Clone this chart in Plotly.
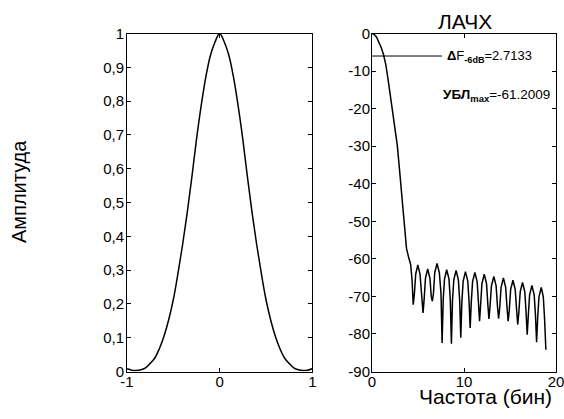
import plotly.graph_objects as go

# ---- Data ----
# Left: window function (amplitude vs normalized time)
win_t = [-1.0, -0.95, -0.9, -0.85, -0.8, -0.75, -0.7, -0.65, -0.6, -0.55, -0.5,
         -0.45, -0.4, -0.35, -0.3, -0.25, -0.2, -0.15, -0.1, -0.05, 0.0,
         0.05, 0.1, 0.15, 0.2, 0.25, 0.3, 0.35, 0.4, 0.45, 0.5,
         0.55, 0.6, 0.65, 0.7, 0.75, 0.8, 0.85, 0.9, 0.95, 1.0]
win_amp = [0.008, 0.004, 0.003, 0.005, 0.011, 0.024, 0.040, 0.068, 0.105, 0.153, 0.213,
           0.290, 0.375, 0.470, 0.575, 0.687, 0.785, 0.870, 0.935, 0.975, 1.0,
           0.975, 0.935, 0.870, 0.785, 0.687, 0.575, 0.470, 0.375, 0.290, 0.213,
           0.153, 0.105, 0.068, 0.040, 0.024, 0.011, 0.005, 0.003, 0.004, 0.008]

# Right: log magnitude response (dB vs frequency bins)
freq_bins = [0.0, 0.25, 0.5, 0.75, 1.0, 1.25, 1.5, 1.75, 2.0, 2.25, 2.5, 2.75, 3.0, 3.25,
             3.5, 3.75, 4.0, 4.2, 4.35, 4.48,
             4.60, 4.75, 4.98, 5.22, 5.43, 5.55,
             5.67, 5.81, 6.05, 6.30, 6.44, 6.56,
             6.68, 6.82, 7.07, 7.32, 7.50, 7.62,
             7.74, 7.88, 8.12, 8.37, 8.51, 8.63,
             8.75, 8.89, 9.14, 9.39, 9.53, 9.65,
             9.77, 9.91, 10.16, 10.41, 10.55, 10.67,
             10.79, 10.93, 11.18, 11.43, 11.57, 11.69,
             11.81, 11.95, 12.20, 12.45, 12.59, 12.71,
             12.83, 12.98, 13.24, 13.49, 13.64, 13.76,
             13.88, 14.03, 14.28, 14.53, 14.68, 14.80,
             14.92, 15.07, 15.32, 15.57, 15.72, 15.84,
             15.96, 16.11, 16.36, 16.61, 16.75, 16.87,
             16.99, 17.13, 17.38, 17.63, 17.77, 17.89,
             18.01, 18.15, 18.40, 18.62, 18.76, 18.90]
level_db = [0.0, -0.3, -1.0, -2.2, -3.7, -5.6, -8.3, -12.3, -16.8, -21.0, -25.3, -29.8, -36.5, -44.0,
            -51.5, -57.2, -59.8, -61.5, -65.5, -72.2,
            -69.6, -64.1, -61.6, -64.1, -70.7, -74.4,
            -70.7, -65.2, -62.7, -65.2, -70.0, -71.3,
            -69.2, -63.7, -61.2, -63.7, -69.2, -82.4,
            -70.9, -65.4, -62.9, -65.4, -70.9, -82.6,
            -71.1, -65.6, -63.1, -65.6, -71.1, -81.0,
            -71.4, -65.9, -63.4, -65.9, -71.4, -78.4,
            -71.6, -66.1, -63.6, -66.1, -71.6, -76.6,
            -72.1, -66.6, -64.1, -66.6, -72.1, -76.0,
            -72.7, -67.2, -64.7, -67.2, -72.7, -75.9,
            -73.1, -67.6, -65.1, -67.6, -73.1, -76.6,
            -73.7, -68.2, -65.7, -68.2, -73.7, -77.5,
            -74.3, -68.8, -66.3, -68.8, -74.3, -80.2,
            -75.1, -69.6, -67.1, -69.6, -75.1, -82.2,
            -75.6, -70.1, -67.6, -70.1, -76.0, -84.2]

# -6 dB reference line
ref_line_x = [0.0, 7.6]
ref_line_y = [-6.0, -6.0]

left_xticks = [-1, 0, 1]
left_xticktext = ["-1", "0", "1"]
left_yticks = [0, 0.1, 0.2, 0.3, 0.4, 0.5, 0.6, 0.7, 0.8, 0.9, 1]
left_yticktext = ["0", "0,1", "0,2", "0,3", "0,4", "0,5", "0,6", "0,7", "0,8", "0,9", "1"]
right_xticks = [0, 10, 20]
right_xticktext = ["0", "10", "20"]
right_yticks = [0, -10, -20, -30, -40, -50, -60, -70, -80, -90]
right_yticktext = ["0", "-10", "-20", "-30", "-40", "-50", "-60", "-70", "-80", "-90"]

delta_f = "2.7133"
sidelobe_max = "-61.2009"

FONT = "Liberation Sans, Arial, sans-serif"
W, H = 564, 419

fig = go.Figure()
fig.add_trace(go.Scatter(x=win_t, y=win_amp, mode="lines", line=dict(color="black", width=1.5, shape="spline"),
                         xaxis="x", yaxis="y", showlegend=False))
fig.add_trace(go.Scatter(x=freq_bins, y=level_db, mode="lines", line=dict(color="black", width=1.5),
                         xaxis="x2", yaxis="y2", showlegend=False))
fig.add_trace(go.Scatter(x=ref_line_x, y=ref_line_y, mode="lines", line=dict(color="black", width=1),
                         xaxis="x2", yaxis="y2", showlegend=False))

ydom = [1 - 371.5 / H, 1 - 33.5 / H]
axis_common = dict(showline=True, linecolor="black", linewidth=1, mirror="ticks", ticks="inside",
                   ticklen=4, tickcolor="black", showgrid=False, zeroline=False, automargin=False,
                   ticklabeloverflow="allow",
                   tickfont=dict(family=FONT, size=15, color="black"))

fig.update_layout(
    width=W, height=H, autosize=False,
    margin=dict(l=0, r=0, t=0, b=0, pad=0),
    paper_bgcolor="white", plot_bgcolor="white",
    xaxis=dict(domain=[127 / W, 312.3 / W], range=[-1, 1], tickvals=left_xticks, ticktext=left_xticktext,
               anchor="y", ticklabelstandoff=-4, **axis_common),
    yaxis=dict(domain=ydom, range=[0, 1], tickvals=left_yticks, ticktext=left_yticktext, anchor="x",
               ticklabelstandoff=-1, **axis_common),
    xaxis2=dict(domain=[372 / W, 556 / W], range=[0, 20], tickvals=right_xticks, ticktext=right_xticktext,
                anchor="y2", ticklabelstandoff=-4, **axis_common),
    yaxis2=dict(domain=ydom, range=[-90, 0], tickvals=right_yticks, ticktext=right_yticktext, anchor="x2",
                ticklabelstandoff=-2, **axis_common),
    annotations=[
        dict(text="Амплитуда", xref="paper", yref="paper", x=19 / W, y=1 - 192 / H, textangle=-90,
             showarrow=False, font=dict(family=FONT, size=20, color="black"), xanchor="center", yanchor="middle"),
        dict(text="ЛАЧХ", xref="paper", yref="paper", x=465 / W, y=1 - 21 / H,
             showarrow=False, font=dict(family=FONT, size=21, color="black"), xanchor="center", yanchor="middle"),
        dict(text="Частота (бин)", xref="paper", yref="paper", x=485 / W, y=1 - 396 / H,
             showarrow=False, font=dict(family=FONT, size=21, color="black"), xanchor="center", yanchor="middle"),
        dict(text="<b>Δ</b>F<sub><b>-6dB</b></sub>=" + delta_f, xref="x2", yref="y2", x=7.9, y=-6,
             showarrow=False, font=dict(family=FONT, size=13, color="black"), xanchor="left", yanchor="middle"),
        dict(text="<b>УБЛ</b><sub><b>max</b></sub>=" + sidelobe_max, xref="x2", yref="y2", x=7.55, y=-16.5,
             showarrow=False, font=dict(family=FONT, size=13.5, color="black"), xanchor="left", yanchor="middle"),
    ],
)

fig.write_html("out.html", config={"displayModeBar": False},
               post_script="document.body.style.margin='0';document.body.style.overflow='hidden';")
